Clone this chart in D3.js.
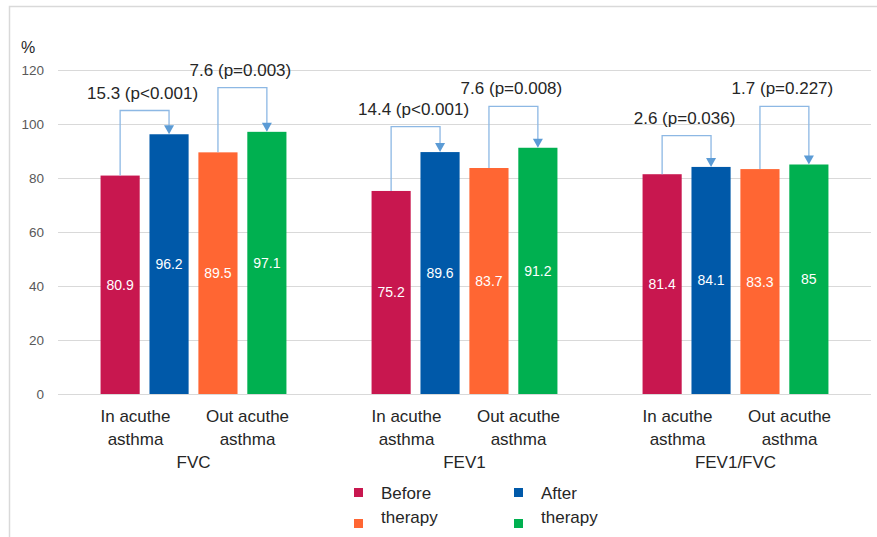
<!DOCTYPE html>
<html>
<head>
<meta charset="utf-8">
<script src="https://cdn.jsdelivr.net/npm/d3@7"></script>
<style>
  body { margin: 0; background: #fff; }
  text { font-family: "Liberation Sans", Arial, sans-serif; }
</style>
</head>
<body>
<div id="chart"></div>
<script>
// Spirometry before / after therapy

const groups = ["FVC", "FEV1", "FEV1/FVC"];
const subLabels = ["In acuthe asthma", "Out acuthe asthma"];
const barColors = ["#C8174F", "#0059A9", "#FF6633", "#00B050"];

// each group: in-before, in-after, out-before, out-after
const fvcValues = [80.9, 96.2, 89.5, 97.1];
const fev1Values = [75.2, 89.6, 83.7, 91.2];
const ratioValues = [81.4, 84.1, 83.3, 85];

// change annotations (per group: in pair, out pair)
const changeLabels = [
    ["15.3 (p<0.001)", "7.6 (p=0.003)"],
    ["14.4 (p<0.001)", "7.6 (p=0.008)"],
    ["2.6 (p=0.036)", "1.7 (p=0.227)"]
];
// height of the connector (in % units)
const bracketLevels = [
    [105, 113.5],
    [99, 106.5],
    [95.7, 106.5]
];

const yTicks = [0, 20, 40, 60, 80, 100, 120];
// legend text per series (same order as barColors)
const legendLabels = ["Before therapy", "After therapy", "", ""];

(function () {
    const W = 877, H = 537;
    const allValues = [fvcValues, fev1Values, ratioValues];

    const svg = d3.select("#chart").append("svg")
        .attr("width", W).attr("height", H);

    // chart frame
    svg.append("rect")
        .attr("x", 9.5).attr("y", 6.5)
        .attr("width", 900).attr("height", 600)
        .attr("fill", "none").attr("stroke", "#D9D9D9").attr("stroke-width", 1.5);

    const x0 = d3.scaleBand().domain(groups).range([58, 871]).padding(0);
    const x1 = d3.scaleBand().domain(d3.range(4))
        .range([0, x0.bandwidth()]).paddingInner(0.2).paddingOuter(0.87);
    const y = d3.scaleLinear().domain([0, 120]).range([394, 70]);

    // gridlines
    svg.append("g").selectAll("line")
        .data(yTicks)
        .enter().append("line")
        .attr("x1", 58).attr("x2", 871)
        .attr("y1", d => Math.round(y(d)) + 0.5).attr("y2", d => Math.round(y(d)) + 0.5)
        .attr("stroke", "#D9D9D9").attr("stroke-width", 1);

    // y axis labels
    const yAxis = d3.axisLeft(y).tickValues(yTicks).tickSize(0).tickPadding(0);
    const ya = svg.append("g").attr("transform", "translate(44,0)").call(yAxis);
    ya.select(".domain").remove();
    ya.selectAll("text").attr("font-size", "13.5px").attr("fill", "#595959")
        .style("font-family", "Liberation Sans, Arial, sans-serif");

    svg.append("text")
        .attr("x", 21).attr("y", 53)
        .attr("font-size", "16px").attr("fill", "#262626")
        .text("%");

    // bars
    const g = svg.selectAll(".grp")
        .data(groups)
        .enter().append("g")
        .attr("class", "grp")
        .attr("transform", d => "translate(" + x0(d) + ",0)");

    g.selectAll("rect")
        .data((d, i) => allValues[i].map((v, j) => ({ v: v, j: j })))
        .enter().append("rect")
        .attr("x", d => x1(d.j))
        .attr("y", d => y(d.v))
        .attr("width", x1.bandwidth())
        .attr("height", d => y(0) - y(d.v))
        .attr("fill", d => barColors[d.j]);

    // values in bars
    g.selectAll("text.val")
        .data((d, i) => allValues[i].map((v, j) => ({ v: v, j: j })))
        .enter().append("text")
        .attr("class", "val")
        .attr("x", d => x1(d.j) + x1.bandwidth() / 2)
        .attr("y", d => (y(d.v) + y(0)) / 2 + 5)
        .attr("text-anchor", "middle")
        .attr("font-size", "14px")
        .attr("fill", "#fff")
        .text(d => d.v);

    // connectors with arrows
    groups.forEach((grp, gi) => {
        const vals = allValues[gi];
        [0, 1].forEach(p => {
            const a = p * 2, b = p * 2 + 1;
            const xa = x0(grp) + x1(a) + x1.bandwidth() / 2;
            const xb = x0(grp) + x1(b) + x1.bandwidth() / 2;
            const yl = y(bracketLevels[gi][p]);
            const tip = y(vals[b]);
            svg.append("path")
                .attr("d", "M" + xa + "," + y(vals[a]) + "V" + yl + "H" + xb + "V" + (tip - 8))
                .attr("fill", "none")
                .attr("stroke", "#8DB8E4")
                .attr("stroke-width", 1.3);
            svg.append("path")
                .attr("d", "M" + (xb - 5) + "," + (tip - 9) + "L" + (xb + 5) + "," + (tip - 9) + "L" + xb + "," + tip + "Z")
                .attr("fill", "#5B9BD5");
            svg.append("text")
                .attr("x", (xa + xb) / 2 - 2)
                .attr("y", yl - 12)
                .attr("text-anchor", "middle")
                .attr("font-size", "17px")
                .attr("fill", "#262626")
                .text(changeLabels[gi][p]);
        });
    });

    // category labels
    const subOffsets = [-58, 54];
    groups.forEach(grp => {
        const cx = x0(grp) + x0.bandwidth() / 2;
        subLabels.forEach((lab, k) => {
            const words = lab.split(" ");
            const t = svg.append("text")
                .attr("x", cx + subOffsets[k])
                .attr("y", 422)
                .attr("text-anchor", "middle")
                .attr("font-size", "17px")
                .attr("fill", "#262626");
            t.append("tspan").attr("x", cx + subOffsets[k]).text(words.slice(0, 2).join(" "));
            t.append("tspan").attr("x", cx + subOffsets[k]).attr("dy", 23).text(words.slice(2).join(" "));
        });
        svg.append("text")
            .attr("x", cx)
            .attr("y", 468)
            .attr("text-anchor", "middle")
            .attr("font-size", "17px")
            .attr("fill", "#262626")
            .text(grp);
    });

    // legend: 2 columns x 2 rows, series 0,1 on the top row
    const legX = [354, 514, 354, 514];
    const legY = [488, 488, 519, 519];
    const leg = svg.append("g");
    legendLabels.forEach((lab, i) => {
        leg.append("rect")
            .attr("x", legX[i]).attr("y", legY[i])
            .attr("width", 9).attr("height", 9)
            .attr("fill", barColors[i]);
        if (lab) {
            const words = lab.split(" ");
            const t = leg.append("text")
                .attr("x", legX[i] + 27)
                .attr("y", legY[i] + 11)
                .attr("font-size", "17px")
                .attr("fill", "#262626");
            words.forEach((w, k) => {
                t.append("tspan").attr("x", legX[i] + 27).attr("dy", k ? 24 : 0).text(w);
            });
        }
    });
})();
</script>
</body>
</html>
